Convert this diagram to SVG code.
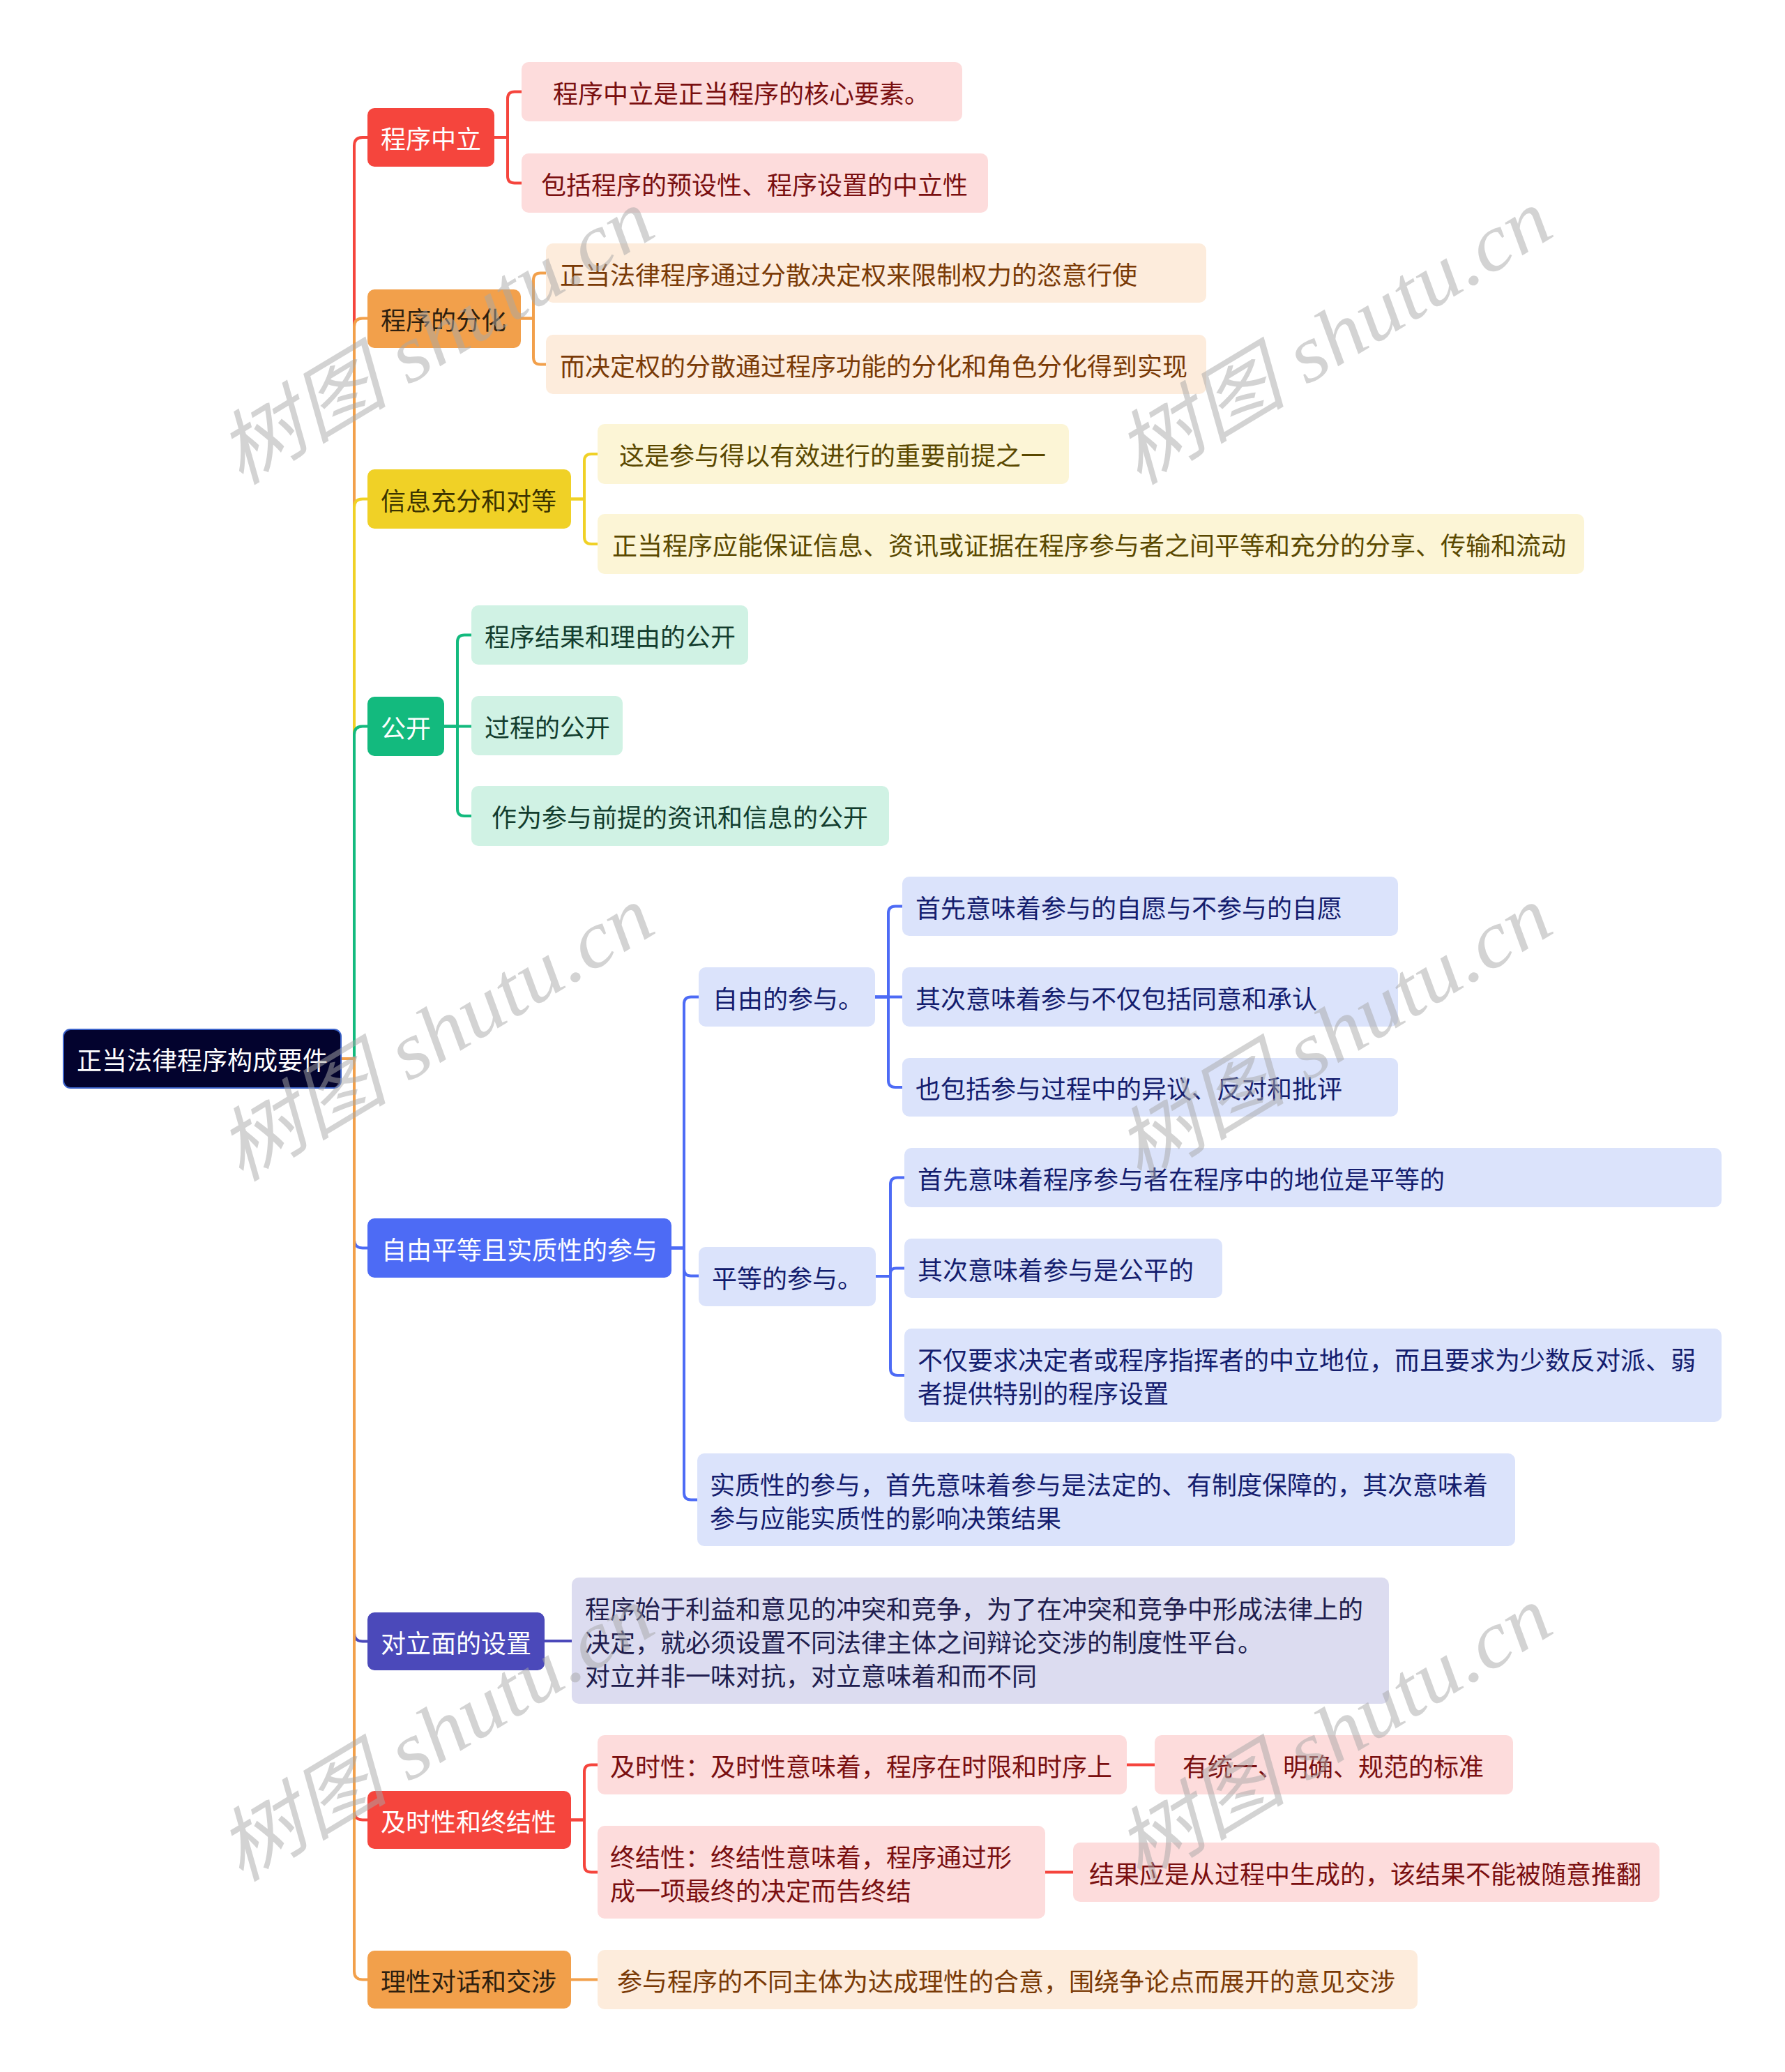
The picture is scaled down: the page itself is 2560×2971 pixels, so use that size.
<svg xmlns="http://www.w3.org/2000/svg" width="2560" height="2971" viewBox="0 0 2560 2971">
<style>
.t{font-family:"Noto Sans CJK SC","Noto Sans",sans-serif;font-size:36px;dominant-baseline:central}
.w{fill:#ffffff}
.c{fill:none;stroke-width:4;stroke-linejoin:round;stroke-linecap:round}
.red{stroke:#f5453d}.org{stroke:#f2a04b}.yel{stroke:#f0d126}.grn{stroke:#13ba7e}.blu{stroke:#4d6bf5}.ind{stroke:#4b49ba}
.wm{font-family:"Liberation Serif","Noto Sans CJK SC",serif;font-style:italic;font-size:115px;fill:#a8a8a8;opacity:0.5}
</style>
<rect width="2560" height="2971" fill="#ffffff"/>
<g id="connectors">
<path class="c red" d="M489 1518 H508 V209 Q508 197 520 197 H527"/>
<path class="c org" d="M489 1518 H508 V468.5 Q508 456.5 520 456.5 H527"/>
<path class="c yel" d="M489 1518 H508 V727.5 Q508 715.5 520 715.5 H527"/>
<path class="c grn" d="M489 1518 H508 V1053.5 Q508 1041.5 520 1041.5 H527"/>
<path class="c blu" d="M489 1518 H508 V1777.5 Q508 1789.5 520 1789.5 H527"/>
<path class="c ind" d="M489 1518 H508 V2341.5 Q508 2353.5 520 2353.5 H527"/>
<path class="c red" d="M489 1518 H508 V2597.5 Q508 2609.5 520 2609.5 H527"/>
<path class="c org" d="M489 1518 H508 V2826.5 Q508 2838.5 520 2838.5 H527"/>
<path class="c red" d="M709 197 H728 V141.5 Q728 131.5 738 131.5 H748"/>
<path class="c red" d="M709 197 H728 V252.5 Q728 262.5 738 262.5 H748"/>
<path class="c org" d="M747 456.5 H765 V401.5 Q765 391.5 775 391.5 H783"/>
<path class="c org" d="M747 456.5 H765 V512.5 Q765 522.5 775 522.5 H783"/>
<path class="c yel" d="M819 715.5 H838 V661 Q838 651 848 651 H857"/>
<path class="c yel" d="M819 715.5 H838 V770 Q838 780 848 780 H857"/>
<path class="c grn" d="M637 1041.5 H656 V920.5 Q656 910.5 666 910.5 H676"/>
<path class="c grn" d="M637 1041.5 H676"/>
<path class="c grn" d="M637 1041.5 H656 V1160 Q656 1170 666 1170 H676"/>
<path class="c blu" d="M963 1789.5 H981 V1439.5 Q981 1429.5 991 1429.5 H1002"/>
<path class="c blu" d="M963 1789.5 H981 V1819.5 Q981 1829.5 991 1829.5 H1002"/>
<path class="c blu" d="M963 1789.5 H981 V2140.5 Q981 2150.5 991 2150.5 H1000"/>
<path class="c blu" d="M1255 1429.5 H1274 V1309.5 Q1274 1299.5 1284 1299.5 H1294"/>
<path class="c blu" d="M1255 1429.5 H1294"/>
<path class="c blu" d="M1255 1429.5 H1274 V1549 Q1274 1559 1284 1559 H1294"/>
<path class="c blu" d="M1256 1830 H1277 V1698.5 Q1277 1688.5 1287 1688.5 H1297"/>
<path class="c blu" d="M1256 1830 H1277 V1826 Q1277 1818.5 1285 1818.5 H1297"/>
<path class="c blu" d="M1256 1830 H1277 V1962 Q1277 1972 1287 1972 H1297"/>
<path class="c ind" d="M781 2353 H820"/>
<path class="c red" d="M819 2609.5 H838 V2540.5 Q838 2530.5 848 2530.5 H857"/>
<path class="c red" d="M819 2609.5 H838 V2674.5 Q838 2684.5 848 2684.5 H857"/>
<path class="c red" d="M1616 2530.5 H1656"/>
<path class="c red" d="M1499 2684.5 H1539"/>
<path class="c org" d="M819 2838.5 H857"/>
</g>
<g id="root">
<rect x="91" y="1476" width="398" height="84" rx="10" fill="#03032e" stroke="#3b62c9" stroke-width="2"/>
<text class="t w" x="290" y="1518" text-anchor="middle">正当法律程序构成要件</text>
</g>
<g id="n1">
<rect x="527" y="155" width="182" height="84" rx="10" fill="#f5453d"/>
<text class="t w" x="546" y="197">程序中立</text>
</g>
<g id="n1a">
<rect x="748" y="89" width="632" height="85" rx="10" fill="#fddcdc"/>
<text class="t" x="793" y="131.5" fill="#7a0f10">程序中立是正当程序的核心要素。</text>
</g>
<g id="n1b">
<rect x="748" y="220" width="669" height="85" rx="10" fill="#fddcdc"/>
<text class="t" x="776" y="262.5" fill="#7a0f10">包括程序的预设性、程序设置的中立性</text>
</g>
<g id="n2">
<rect x="527" y="415" width="220" height="84" rx="10" fill="#f2a04b"/>
<text class="t" x="546" y="456.5" fill="#2e1f0f">程序的分化</text>
</g>
<g id="n2a">
<rect x="783" y="349" width="947" height="85" rx="10" fill="#fdecdc"/>
<text class="t" x="803" y="391.5" fill="#7a3a06">正当法律程序通过分散决定权来限制权力的恣意行使</text>
</g>
<g id="n2b">
<rect x="783" y="480" width="947" height="85" rx="10" fill="#fdecdc"/>
<text class="t" x="803" y="522.5" fill="#7a3a06">而决定权的分散通过程序功能的分化和角色分化得到实现</text>
</g>
<g id="n3">
<rect x="527" y="673" width="292" height="85" rx="10" fill="#f0d126"/>
<text class="t" x="546" y="715.5" fill="#3b3300">信息充分和对等</text>
</g>
<g id="n3a">
<rect x="857" y="608" width="676" height="86" rx="10" fill="#fcf5d6"/>
<text class="t" x="888" y="651" fill="#5a4800">这是参与得以有效进行的重要前提之一</text>
</g>
<g id="n3b">
<rect x="857" y="737" width="1415" height="86" rx="10" fill="#fcf5d6"/>
<text class="t" x="878" y="780" fill="#5a4800">正当程序应能保证信息、资讯或证据在程序参与者之间平等和充分的分享、传输和流动</text>
</g>
<g id="n4">
<rect x="527" y="999" width="110" height="85" rx="10" fill="#13ba7e"/>
<text class="t w" x="546" y="1041.5">公开</text>
</g>
<g id="n4a">
<rect x="676" y="868" width="397" height="85" rx="10" fill="#d0f2e4"/>
<text class="t" x="695" y="910.5" fill="#133d2e">程序结果和理由的公开</text>
</g>
<g id="n4b">
<rect x="676" y="998" width="217" height="85" rx="10" fill="#d0f2e4"/>
<text class="t" x="695" y="1040.5" fill="#133d2e">过程的公开</text>
</g>
<g id="n4c">
<rect x="676" y="1127" width="599" height="86" rx="10" fill="#d0f2e4"/>
<text class="t" x="705" y="1170" fill="#133d2e">作为参与前提的资讯和信息的公开</text>
</g>
<g id="n5">
<rect x="527" y="1747" width="436" height="85" rx="10" fill="#4d6bf5"/>
<text class="t w" x="547" y="1789.5">自由平等且实质性的参与</text>
</g>
<g id="n5a">
<rect x="1002" y="1387" width="253" height="85" rx="10" fill="#dbe3fb"/>
<text class="t" x="1022" y="1429.5" fill="#141d6e">自由的参与。</text>
</g>
<g id="n5a1">
<rect x="1294" y="1257" width="711" height="85" rx="10" fill="#dbe3fb"/>
<text class="t" x="1313" y="1299.5" fill="#141d6e">首先意味着参与的自愿与不参与的自愿</text>
</g>
<g id="n5a2">
<rect x="1294" y="1387" width="711" height="85" rx="10" fill="#dbe3fb"/>
<text class="t" x="1313" y="1429.5" fill="#141d6e">其次意味着参与不仅包括同意和承认</text>
</g>
<g id="n5a3">
<rect x="1294" y="1517" width="711" height="84" rx="10" fill="#dbe3fb"/>
<text class="t" x="1313" y="1559" fill="#141d6e">也包括参与过程中的异议、反对和批评</text>
</g>
<g id="n5b">
<rect x="1002" y="1788" width="254" height="85" rx="10" fill="#dbe3fb"/>
<text class="t" x="1021" y="1830.5" fill="#141d6e">平等的参与。</text>
</g>
<g id="n5b1">
<rect x="1297" y="1646" width="1172" height="85" rx="10" fill="#dbe3fb"/>
<text class="t" x="1316" y="1688.5" fill="#141d6e">首先意味着程序参与者在程序中的地位是平等的</text>
</g>
<g id="n5b2">
<rect x="1297" y="1776" width="456" height="85" rx="10" fill="#dbe3fb"/>
<text class="t" x="1316" y="1818.5" fill="#141d6e">其次意味着参与是公平的</text>
</g>
<g id="n5b3">
<rect x="1297" y="1905" width="1172" height="134" rx="10" fill="#dbe3fb"/>
<text class="t" x="1316" y="1948" fill="#141d6e">不仅要求决定者或程序指挥者的中立地位，而且要求为少数反对派、弱</text>
<text class="t" x="1316" y="1996" fill="#141d6e">者提供特别的程序设置</text>
</g>
<g id="n5c">
<rect x="1000" y="2084" width="1173" height="133" rx="10" fill="#dbe3fb"/>
<text class="t" x="1018" y="2126.5" fill="#141d6e">实质性的参与，首先意味着参与是法定的、有制度保障的，其次意味着</text>
<text class="t" x="1018" y="2174.5" fill="#141d6e">参与应能实质性的影响决策结果</text>
</g>
<g id="n6">
<rect x="527" y="2312" width="254" height="83" rx="10" fill="#4b49ba"/>
<text class="t w" x="546" y="2353.5">对立面的设置</text>
</g>
<g id="n6a">
<rect x="820" y="2262" width="1172" height="181" rx="10" fill="#dcdcf0"/>
<text class="t" x="839" y="2304.5" fill="#201d4e">程序始于利益和意见的冲突和竞争，为了在冲突和竞争中形成法律上的</text>
<text class="t" x="839" y="2352.5" fill="#201d4e">决定，就必须设置不同法律主体之间辩论交涉的制度性平台。</text>
<text class="t" x="839" y="2400.5" fill="#201d4e">对立并非一味对抗，对立意味着和而不同</text>
</g>
<g id="n7">
<rect x="527" y="2568" width="292" height="83" rx="10" fill="#f5453d"/>
<text class="t w" x="546" y="2609.5">及时性和终结性</text>
</g>
<g id="n7a">
<rect x="857" y="2488" width="759" height="85" rx="10" fill="#fddcdc"/>
<text class="t" x="875" y="2530.5" fill="#7a0f10">及时性：及时性意味着，程序在时限和时序上</text>
</g>
<g id="n7a1">
<rect x="1656" y="2488" width="514" height="85" rx="10" fill="#fddcdc"/>
<text class="t" x="1696" y="2530.5" fill="#7a0f10">有统一、明确、规范的标准</text>
</g>
<g id="n7b">
<rect x="857" y="2618" width="642" height="133" rx="10" fill="#fddcdc"/>
<text class="t" x="875" y="2660.5" fill="#7a0f10">终结性：终结性意味着，程序通过形</text>
<text class="t" x="875" y="2708.5" fill="#7a0f10">成一项最终的决定而告终结</text>
</g>
<g id="n7b1">
<rect x="1539" y="2642" width="841" height="85" rx="10" fill="#fddcdc"/>
<text class="t" x="1562" y="2684.5" fill="#7a0f10">结果应是从过程中生成的，该结果不能被随意推翻</text>
</g>
<g id="n8">
<rect x="527" y="2797" width="292" height="83" rx="10" fill="#f2a04b"/>
<text class="t" x="546" y="2838.5" fill="#2e1f0f">理性对话和交涉</text>
</g>
<g id="n8a">
<rect x="857" y="2796" width="1176" height="85" rx="10" fill="#fdecdc"/>
<text class="t" x="885" y="2838.5" fill="#7a3a06">参与程序的不同主体为达成理性的合意，围绕争论点而展开的意见交涉</text>
</g>
<g id="watermarks">
<text class="wm" transform="translate(345 697) rotate(-31)" textLength="700" lengthAdjust="spacingAndGlyphs">树图 shutu.cn</text>
<text class="wm" transform="translate(1633 697) rotate(-31)" textLength="700" lengthAdjust="spacingAndGlyphs">树图 shutu.cn</text>
<text class="wm" transform="translate(345 1696) rotate(-31)" textLength="700" lengthAdjust="spacingAndGlyphs">树图 shutu.cn</text>
<text class="wm" transform="translate(1633 1696) rotate(-31)" textLength="700" lengthAdjust="spacingAndGlyphs">树图 shutu.cn</text>
<text class="wm" transform="translate(345 2700) rotate(-31)" textLength="700" lengthAdjust="spacingAndGlyphs">树图 shutu.cn</text>
<text class="wm" transform="translate(1633 2700) rotate(-31)" textLength="700" lengthAdjust="spacingAndGlyphs">树图 shutu.cn</text>
</g>
</svg>
